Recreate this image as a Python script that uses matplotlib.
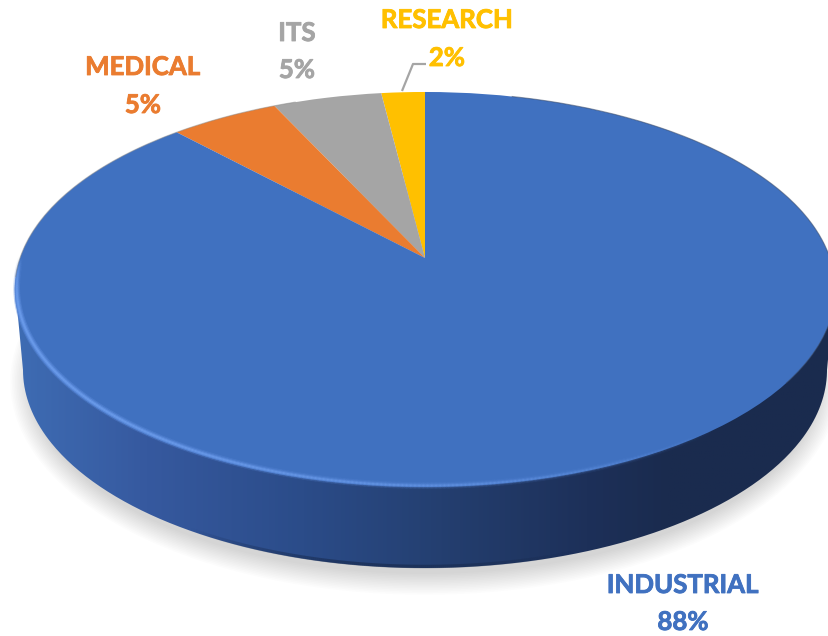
import numpy as np
import matplotlib
matplotlib.use('Agg')
import matplotlib.pyplot as plt
import matplotlib.patheffects as pe
from matplotlib.colors import LinearSegmentedColormap, to_rgb
from matplotlib.patches import Ellipse, PathPatch
from matplotlib.path import Path
from matplotlib.transforms import Transform
from matplotlib.collections import LineCollection

# --- data ---
categories = ['RESEARCH', 'ITS', 'MEDICAL', 'INDUSTRIAL']
# slice shares (the printed labels are rounded)
shares = [2, 5, 5, 88]
percent_labels = ['2%', '5%', '5%', '88%']
colors = ['#ffc000', '#a5a5a5', '#ea7c30', '#4071c0']

W, H = 829, 636

# geometry of the tilted disc, in pixels
CX, APEX_Y = 425, 258
A, B, K = 405.0, 192.5, 0.1595
BOTTOM_Y, BOTTOM_A, BOTTOM_B = 370, 402, 198


class Tilt(Transform):
    """Perspective view of the unit circle: the centre lands on the apex."""
    input_dims = output_dims = 2

    def transform_non_affine(self, values):
        values = np.asarray(values, dtype=float)
        d = 1 + K * values[:, 1]
        return np.column_stack([CX + A * values[:, 0] / d, APEX_Y - B * values[:, 1] / d])


tilt = Tilt()


def rim(t):
    return tilt.transform_non_affine(np.column_stack([np.cos(t), np.sin(t)]))


fig = plt.figure(figsize=(W / 100, H / 100), dpi=100)
ax = fig.add_axes([0, 0, 1, 1])

wedges, _ = ax.pie(shares, colors=colors, startangle=90, counterclock=True, radius=1,
                   wedgeprops={'linewidth': 0, 'zorder': 5})
for w in wedges:
    w.set_transform(tilt + ax.transData)

ax.set_aspect('auto')
ax.set_xlim(0, W)
ax.set_ylim(H, 0)
ax.axis('off')

# soft shadow under the disc
for i in range(14):
    ax.add_patch(Ellipse((CX, 382), 2 * (394 + i * 1.6), 2 * (192 + i * 1.6),
                         fc='black', ec='none', alpha=0.011, zorder=1))

# side wall
t = np.linspace(np.pi, 2 * np.pi, 300)
wall_pts = np.column_stack([CX + BOTTOM_A * np.cos(t), BOTTOM_Y - BOTTOM_B * np.sin(t)])
wall_pts = np.vstack([[[15, 285]], wall_pts, [[835, 285]]])
wall = PathPatch(Path(wall_pts), fc='none', ec='none', transform=ax.transData)
ax.add_patch(wall)
wall_cmap = LinearSegmentedColormap.from_list('wall', [
    (0.00, '#3e6cb3'), (0.16, '#36599f'), (0.35, '#2b4c89'),
    (0.52, '#243f70'), (0.70, '#1d3059'), (0.80, '#1a2b4e'), (1.00, '#1a2b4e')])
xg = np.linspace(0, 1, 400)[None, :]
yg = np.linspace(0, 1, 120)[:, None]
im = ax.imshow(xg * np.ones_like(yg), extent=(15, 835, 575, 280), cmap=wall_cmap,
               aspect='auto', zorder=3, vmin=0, vmax=1)
im.set_clip_path(wall)
ax.set_xlim(0, W)
ax.set_ylim(H, 0)

# darker thin band along the wall's lower edge, only near the lowest part
t2 = np.linspace(1.3 * np.pi, 1.62 * np.pi, 200)
edge = np.column_stack([CX + (BOTTOM_A - 1.5) * np.cos(t2), BOTTOM_Y - (BOTTOM_B - 1.5) * np.sin(t2)])
segs = np.stack([edge[:-1], edge[1:]], axis=1)
fade = np.sin((t2[:-1] - 1.3 * np.pi) / (0.32 * np.pi) * np.pi)
rgba = np.column_stack([np.tile(to_rgb('#14223f'), (len(fade), 1)), fade * 0.5])
ax.add_collection(LineCollection(segs, colors=rgba, linewidths=2.5, zorder=4))

# bevel highlight along the lower left rim, fading at both ends
tb = np.linspace(np.pi * 1.0, np.pi * 1.72, 260)
pts = rim(tb) + np.array([2.0, -1.5])
segs = np.stack([pts[:-1], pts[1:]], axis=1)
fade = np.clip((1.72 * np.pi - tb[:-1]) / (0.45 * np.pi), 0, 1) * np.clip((tb[:-1] - np.pi) / (0.07 * np.pi), 0, 1)
for lw, strength, col in [(5, 0.18, '#5f8fe0'), (3, 0.5, '#5f8fe0'), (1.4, 0.7, '#6a9bea')]:
    rgba = np.column_stack([np.tile(to_rgb(col), (len(fade), 1)), fade * strength])
    ax.add_collection(LineCollection(segs, colors=rgba, linewidths=lw, zorder=6, capstyle='round'))

# thin dark edge on the back of the rim
tb = np.linspace(-0.2 * np.pi, 0.42 * np.pi, 200)
pts = rim(tb)
ax.plot(pts[:, 0], pts[:, 1], color='#3a4a66', lw=0.8, alpha=0.55, zorder=6)
tb = np.linspace(0.62 * np.pi, 1.03 * np.pi, 200)
pts = rim(tb)
ax.plot(pts[:, 0], pts[:, 1], color='#8a8a8a', lw=0.8, alpha=0.5, zorder=6)

# leader line for the small slice
ax.plot([402, 413, 426], [91, 64, 64], color='#a5a5a5', lw=1.6, zorder=4, solid_capstyle='butt')

# labels
label_pos = [(447, 20, 58), (297, 33, 70), (143, 67, 105), (683, 585, 622)]
for name, pct, col, (x, y1, y2) in zip(categories, percent_labels, colors, label_pos):
    for s, y in ((name, y1), (pct, y2)):
        ax.text(x, y, s, color=col, ha='center', va='center', fontsize=18.6,
                fontweight='bold', family='Lato', zorder=8,
                path_effects=[pe.withStroke(linewidth=0.6, foreground=col)])

fig.savefig('out.png', dpi=100, facecolor='white')
